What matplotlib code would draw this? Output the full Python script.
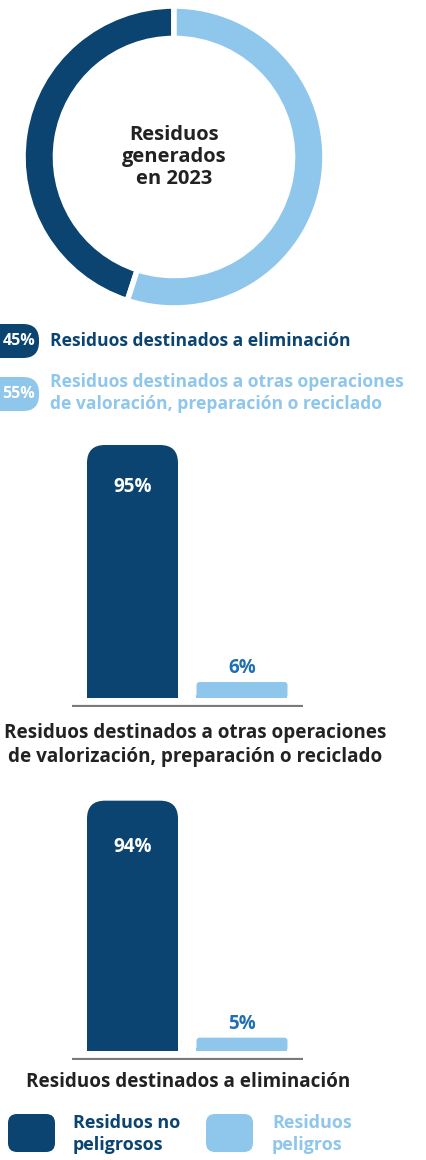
import matplotlib
matplotlib.use("Agg")
import matplotlib.pyplot as plt
from matplotlib.patches import FancyBboxPatch, Rectangle

plt.rcParams['font.family'] = ['Open Sans', 'DejaVu Sans']
plt.rcParams['font.weight'] = 'bold'

DARK = '#0b4470'
LIGHT = '#8fc6ec'
MID = '#1f6fb5'
INK = '#222222'

# data
donut_labels = ['Residuos destinados a eliminación',
                'Residuos destinados a otras operaciones\nde valoración, preparación o reciclado']
donut_values = [45, 55]

bar_cats = ['Residuos no\npeligrosos', 'Residuos\npeligros']
valor_values = [95, 6]
elim_values = [94, 5]

W, H = 427, 1160
fig = plt.figure(figsize=(W / 100, H / 100), dpi=100)

# overlay in pixel coordinates for texts and legend chips
bg = fig.add_axes([0, 0, 1, 1])
bg.set_xlim(0, W)
bg.set_ylim(H, 0)
bg.axis('off')


def box(x0, y0, w, h):
    # pixel box (top-left origin) -> figure fraction
    return [x0 / W, 1 - (y0 + h) / H, w / W, h / H]


def chip(x, y, w, h, r, color):
    bg.add_patch(FancyBboxPatch((x, y), w, h, boxstyle=f"round,pad=0,rounding_size={r}",
                                fc=color, ec='none'))


# donut
ax = fig.add_axes(box(23, 6, 302, 302))
ax.pie(donut_values, colors=[DARK, LIGHT], startangle=90, counterclock=True, radius=1,
       wedgeprops=dict(width=0.215, edgecolor='white', linewidth=4))
ax.set_xlim(-1, 1)
ax.set_ylim(-1, 1)
ax.set_aspect('equal')
bg.text(174, 157, 'Residuos\ngenerados\nen 2023', ha='center', va='center',
        fontsize=14.5, color=INK, linespacing=1.15)

# donut legend
badge_y = [324, 377]
text_y = [341, 393]
cols = [DARK, LIGHT]
for i, v in enumerate(donut_values):
    chip(-24, badge_y[i], 63, 34, 16, cols[i])
    bg.text(19, badge_y[i] + 17, f'{v}%', ha='center', va='center', color='white', fontsize=11.5)
    bg.text(50, text_y[i], donut_labels[i], ha='left', va='center', color=cols[i],
            fontsize=12.6, linespacing=1.35)


def bar_panel(values, top_px, bottom_px, title, title_x, title_y, lab_off):
    x0, x1 = 72, 303
    base_px = bottom_px + 9
    unit = 253 / 95.0  # px per percent
    step = 109.5
    axb = fig.add_axes(box(x0, top_px, x1 - x0, base_px - top_px))
    ylo = -(base_px - bottom_px) / unit
    yhi = (bottom_px - top_px) / unit
    axb.set_ylim(ylo, yhi)
    axb.set_xlim(-(132.5 - x0) / step, 1 + (x1 - 242) / step)
    aspect = (1 / unit) / (1 / step)
    bars = axb.bar([0, 1], values, width=91 / step, color=[DARK, LIGHT])
    radii = [18, 3]
    for b, r in zip(bars, radii):
        bx, by, bw, bh = b.get_x(), b.get_y(), b.get_width(), b.get_height()
        fc = b.get_facecolor()
        b.set_visible(False)
        rs = r / step
        axb.add_patch(FancyBboxPatch((bx, by), bw, bh, boxstyle=f"round,pad=0,rounding_size={rs}",
                                     mutation_aspect=aspect, fc=fc, ec='none'))
        axb.add_patch(Rectangle((bx, by), bw, min(bh, rs * aspect), fc=fc, ec='none'))
    axb.axhline(ylo + 1.2 / unit, color='#7a7a7a', lw=1.6)
    axb.annotate(f'{values[0]}%', (0, values[0]), xytext=(0, lab_off), textcoords='offset pixels',
                 ha='center', va='center', color='white', fontsize=13.5)
    axb.annotate(f'{values[1]}%', (1, values[1]), xytext=(0, 14), textcoords='offset pixels',
                 ha='center', va='center', color=MID, fontsize=13.5)
    axb.axis('off')
    bg.text(title_x, title_y, title, ha='center', va='center', color=INK, fontsize=13.6,
            linespacing=1.33)


bar_panel(valor_values, 440, 698,
          'Residuos destinados a otras operaciones\nde valorización, preparación o reciclado',
          195, 745, -42)
bar_panel(elim_values, 795, 1051, 'Residuos destinados a eliminación', 188, 1082, -46)

# bottom legend
leg_x = [8, 206]
txt_x = [73, 272]
for i, c in enumerate(bar_cats):
    chip(leg_x[i], 1114, 47, 38, 9, cols[i])
    bg.text(txt_x[i], 1134, c, ha='left', va='center', color=cols[i], fontsize=13,
            linespacing=1.3)

fig.savefig('out.png', dpi=100, facecolor='white')
